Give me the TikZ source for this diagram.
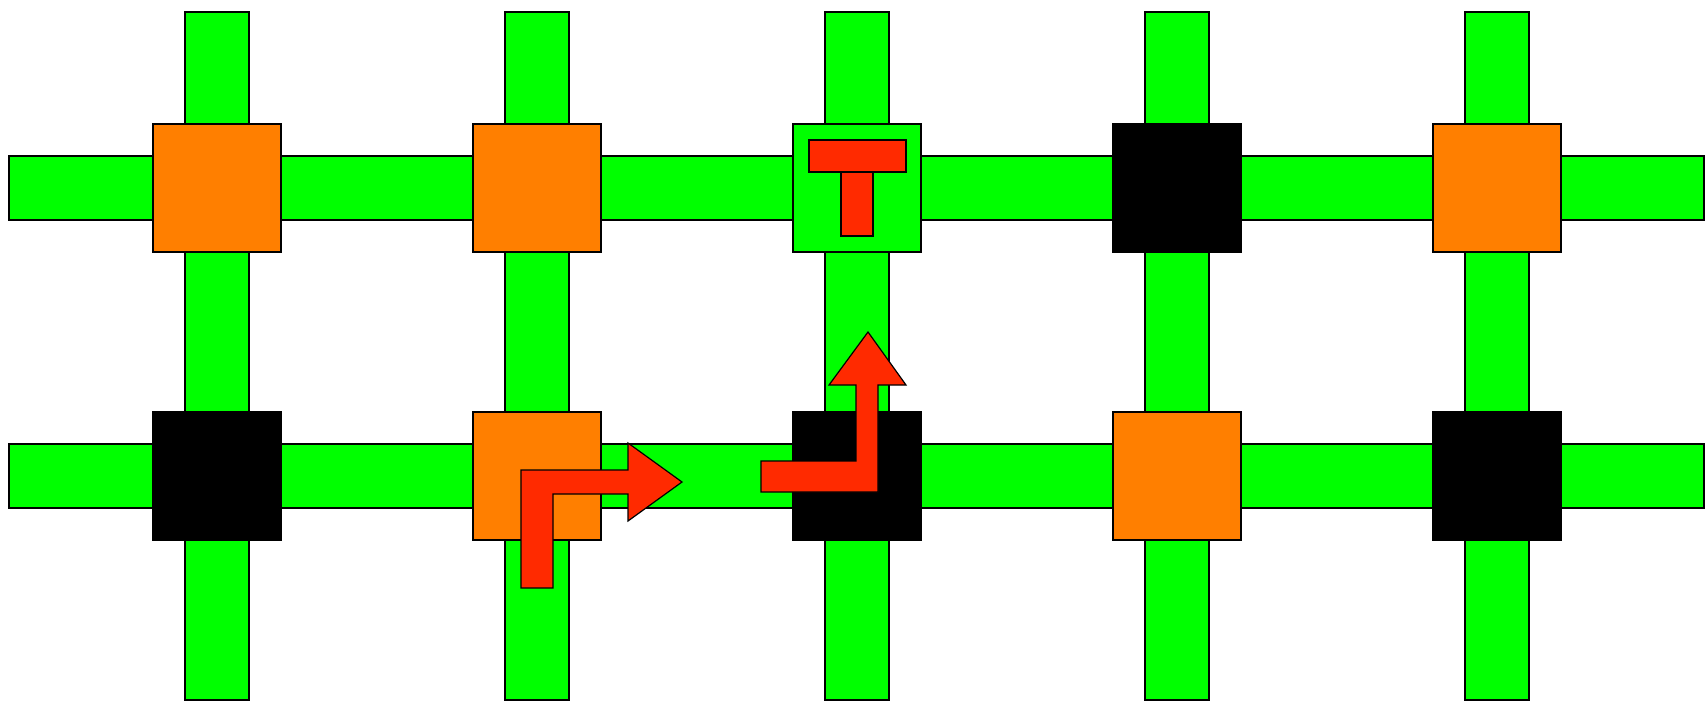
\documentclass[tikz,border=0pt]{standalone}
\definecolor{lgreen}{HTML}{00FF00}
\definecolor{lorange}{HTML}{FF7F00}
\definecolor{lred}{HTML}{FF2A00}
\tikzset{
  bar/.style={draw=black, fill=lgreen, line width=1.2pt},
  sq/.style={draw=black, line width=1.2pt, minimum size=128pt, inner sep=0pt, outer sep=0pt},
  osq/.style={sq, fill=lorange},
  bsq/.style={sq, fill=black},
  gsq/.style={sq, fill=lgreen},
  redshape/.style={draw=black, fill=lred, line width=1.2pt, line join=miter}
}
\begin{document}
\begin{tikzpicture}[x=1pt,y=-1pt]
\useasboundingbox (0,0) rectangle (1705,701);
% horizontal bars
\draw[bar] (9,156) rectangle (1704,220);
\draw[bar] (9,444) rectangle (1704,508);
% vertical bars
\foreach \c in {217,537,857,1177,1497}{
  \draw[bar] (\c-32,12) rectangle (\c+32,700);
}
% squares row 1
\node[osq] (s11) at (217,188) {};
\node[osq] (s12) at (537,188) {};
\node[gsq] (s13) at (857,188) {};
\node[bsq] (s14) at (1177,188) {};
\node[osq] (s15) at (1497,188) {};
% squares row 2
\node[bsq] (s21) at (217,476) {};
\node[osq] (s22) at (537,476) {};
\node[bsq] (s23) at (857,476) {};
\node[osq] (s24) at (1177,476) {};
\node[bsq] (s25) at (1497,476) {};
% T symbol
\draw[redshape] (841,140) rectangle (873,236);
\draw[redshape] (809,140) rectangle (906,172);
% turn-right arrow
\draw[redshape] (521,588) -- (521,470) -- (628,470) -- (628,443) -- (682,482)
  -- (628,521) -- (628,494) -- (553,494) -- (553,588) -- cycle;
% turn-up arrow
\draw[redshape] (761,461) -- (856,461) -- (856,385) -- (829,385) -- (868,332)
  -- (906,385) -- (878,385) -- (878,492) -- (761,492) -- cycle;
\end{tikzpicture}
\end{document}
